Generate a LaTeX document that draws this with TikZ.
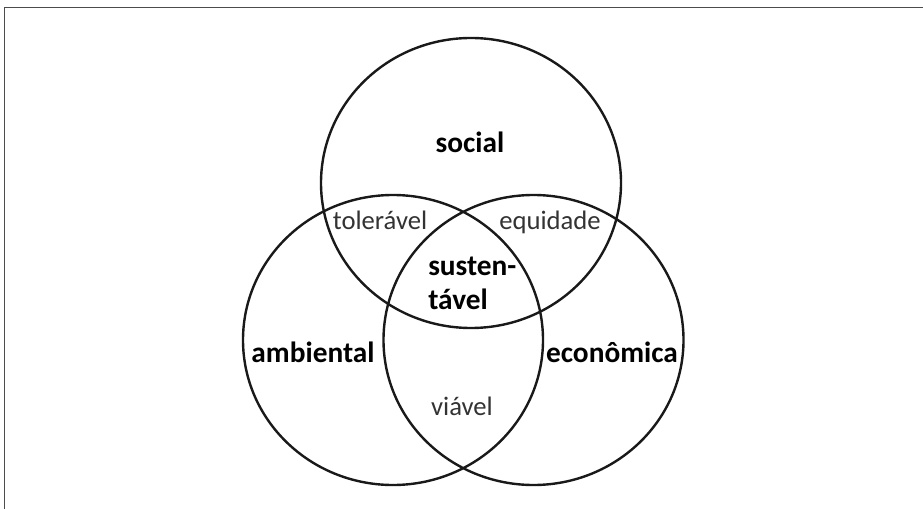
\documentclass[tikz,border=0pt]{standalone}
\usepackage{fontspec}
\setmainfont{Carlito}
\usetikzlibrary{shapes.geometric, positioning}

\begin{document}
\begin{tikzpicture}[x=0.75pt, y=-0.75pt,
        set/.style={ellipse, draw=black!90, line width=1.8pt, minimum width=225pt, minimum height=217.5pt, inner sep=0pt},
        main/.style={inner sep=0pt, font=\bfseries\fontsize{22}{25}\selectfont},
        pair/.style={inner sep=0pt, text=black!80, font=\fontsize{20}{23}\selectfont}]
        \useasboundingbox (0,0) rectangle (923,509);
        \draw[black!70, line width=1.3pt] (4.5,509) -- (4.5,7.5) -- (923,7.5);

        % the three sets
        \node[set] (soc) at (471,183) {};
        \node[set] (amb) at (393,340) {};
        \node[set] (eco) at (533.5,340) {};

        % labels
        \node[main, anchor=base] (social) at (470,153) {social};
        \node[main, anchor=base] (ambiental) at (313,362) {ambiental};
        \node[main, anchor=base] (economica) at (612,362) {econômica};
        \node[main, anchor=base west] (sust) at (428,276) {susten-};
        \node[main, anchor=base west] (tav) at (428,309) {tável};

        \node[pair, anchor=base] (toleravel) at (380,230) {tolerável};
        \node[pair, anchor=base] (equidade) at (550,230) {equidade};
        \node[pair, anchor=base] (viavel) at (462,415) {viável};
\end{tikzpicture}
\end{document}
